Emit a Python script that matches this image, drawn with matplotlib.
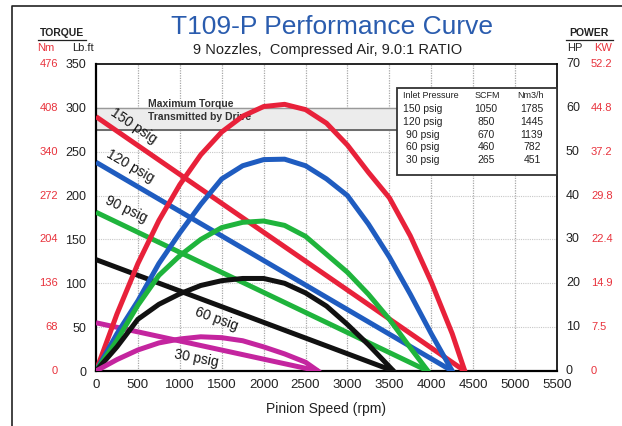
import numpy as np
import matplotlib
matplotlib.use("Agg")
import matplotlib.pyplot as plt
from matplotlib.patches import Rectangle

plt.rcParams['font.family'] = ['Liberation Sans', 'DejaVu Sans']

# ---------------- data ----------------
pressures = ['150 psig', '120 psig', '90 psig', '60 psig', '30 psig']
colors = ['#e8213a', '#1f5cc0', '#1fb43c', '#111111', '#c4259f']

# torque lines (Lb.ft): value at 0 rpm and stall speed where it reaches 0
torque_start = [290, 238, 181, 127, 55]
free_speed = [4400, 4250, 3960, 3550, 2650]

# power curves (HP) read point by point
rpm_150 = [0, 250, 500, 750, 1000, 1250, 1500, 1750, 2000, 2250, 2500, 2750,
           3000, 3250, 3500, 3750, 4000, 4250, 4400]
hp_150 = [0, 13, 24.5, 34.3, 42.5, 49.3, 54.5, 58.1, 60.3, 60.8, 59.6, 56.5,
          51.5, 45.3, 39.5, 30.8, 20.3, 8.5, 0]
rpm_120 = [0, 250, 500, 750, 1000, 1250, 1500, 1750, 2000, 2250, 2500, 2750,
           3000, 3250, 3500, 3750, 4000, 4250]
hp_120 = [0, 8.5, 16, 24.5, 31.5, 38, 43.8, 46.8, 48.2, 48.3, 46.8, 43.8,
          40, 33.5, 26, 17.5, 8.5, 0]
rpm_90 = [0, 250, 500, 750, 1000, 1250, 1500, 1750, 2000, 2250, 2500, 2750,
          3000, 3250, 3500, 3750, 3960]
hp_90 = [0, 7, 15, 21.8, 26.3, 30, 32.7, 33.9, 34.2, 33.2, 30.7, 26.6,
         22.5, 17.5, 11.8, 5.3, 0]
rpm_60 = [0, 250, 500, 750, 1000, 1250, 1500, 1750, 2000, 2250, 2500, 2750,
          3000, 3250, 3450, 3550]
hp_60 = [0, 5.5, 11.8, 15.2, 17.6, 19.5, 20.6, 21.1, 21.1, 20, 17.8, 14.8,
         10.6, 6, 2, 0]
rpm_30 = [0, 250, 500, 750, 1000, 1250, 1500, 1750, 2000, 2250, 2500, 2650]
hp_30 = [0, 2.6, 4.8, 6.4, 7.3, 7.8, 7.6, 6.9, 5.5, 3.9, 2.0, 0]
power_rpm = [rpm_150, rpm_120, rpm_90, rpm_60, rpm_30]
power_hp = [hp_150, hp_120, hp_90, hp_60, hp_30]

lbft_ticks = [0, 50, 100, 150, 200, 250, 300, 350]
nm_labels = ['0', '68', '136', '204', '272', '340', '408', '476']
hp_ticks = [0, 10, 20, 30, 40, 50, 60, 70]
kw_labels = ['0', '7.5', '14.9', '22.4', '29.8', '37.2', '44.8', '52.2']
rpm_ticks = list(range(0, 5501, 500))

table_rows = [('150 psig', '1050', '1785'), ('120 psig', '850', '1445'),
              ('90 psig', '670', '1139'), ('60 psig', '460', '782'),
              ('30 psig', '265', '451')]

# ---------------- figure ----------------
W, H = 622, 426
fig = plt.figure(figsize=(W / 100, H / 100), dpi=100)


def px(x, y):
    return x / W, 1 - y / H


L, R, T, B = 96, 557, 64, 371
ax = fig.add_axes([L / W, 1 - B / H, (R - L) / W, (B - T) / H])
ax.set_xlim(0, 5500)
ax.set_ylim(0, 350)
ax2 = ax.twinx()
ax2.set_ylim(0, 70)

for a in (ax, ax2):
    a.tick_params(length=0)
ax2.set_yticks([])
ax.set_xticks(rpm_ticks)
ax.set_xticklabels([str(t) for t in rpm_ticks], fontsize=9.5, color='#222222')
ax.tick_params(axis='x', pad=6)
ax.set_yticks(lbft_ticks)
ax.set_yticklabels([str(t) for t in lbft_ticks], fontsize=9, color='#222222')
ax.tick_params(axis='y', pad=7)

for s in ('left', 'bottom'):
    ax.spines[s].set_linewidth(1.6)
for s in ('top', 'right'):
    ax.spines[s].set_linewidth(1.2)
for s in ax2.spines.values():
    s.set_visible(False)

# grid
for xv in rpm_ticks[1:-1]:
    ax.axvline(xv, color='#a8a8a8', ls=(0, (1, 1)), lw=0.9, zorder=0)
for yv in lbft_ticks[1:-1]:
    ax.axhline(yv, color='#c8c8c8', ls=(0, (1, 1)), lw=0.8, zorder=0)

# maximum torque band
box_left = (397 - L) / (R - L)
ax.axhspan(275, 300, xmin=0, xmax=box_left, color='#ececec', zorder=0)
ax.axhline(300, xmin=0, xmax=box_left, color='#999999', lw=1.0, zorder=1)
ax.axhline(275, xmin=0, xmax=box_left, color='#555555', lw=1.2, zorder=1)
ax.text(620, 297, 'Maximum Torque\nTransmitted by Drive', fontsize=7.5,
        fontweight='bold', color='#333333', va='center', ha='left',
        linespacing=1.3, zorder=2)

# torque lines and power curves
for i in range(len(pressures)):
    ax.plot([0, free_speed[i]], [torque_start[i], 0], color=colors[i],
            lw=3.6, solid_capstyle='butt', zorder=3)
    ax2.plot(power_rpm[i], power_hp[i], color=colors[i], lw=3.6,
             solid_joinstyle='round', zorder=3)

# line labels
label_pos = [(450, 280, -34), (410, 234, -30), (355, 184, -25.5),
             (1440, 59, -20), (1200, 14, -11)]
for (xl, yl, rot), name in zip(label_pos, pressures):
    ax.text(xl, yl, name, fontsize=10, color='#151515', rotation=rot,
            ha='center', va='center', rotation_mode='anchor', zorder=4)

# inlet table
tx0, ty0 = px(397, 88)
tx1, ty1 = px(557, 175)
fig.patches.append(Rectangle((tx0, ty1), tx1 - tx0, ty0 - ty1,
                             transform=fig.transFigure, fill=True,
                             facecolor='white', edgecolor='#333333', lw=1.3,
                             zorder=5))
hdr_y = 96
for xc, txt in [(431, 'Inlet Pressure'), (487, 'SCFM'), (531, 'Nm3/h')]:
    fig.text(*px(xc, hdr_y), txt, fontsize=6.5, ha='center', va='center',
             color='#222222', zorder=6)
for k, row in enumerate(table_rows):
    yy = 109 + k * 12.8
    for xc, txt in zip((423, 486, 532), row):
        fig.text(*px(xc, yy), txt, fontsize=7.5, ha='center', va='center',
                 color='#222222', zorder=6)

# Nm and KW columns
for yv, lab in zip(lbft_ticks, nm_labels):
    fig.text(*px(58, B - yv * (B - T) / 350), lab, fontsize=8, color='#e8323c',
             ha='right', va='center')
for hv, hl, kl in zip(hp_ticks, hp_ticks, kw_labels):
    yy = B - hv * (B - T) / 70
    fig.text(*px(566, yy), str(hl), fontsize=9, color='#222222', ha='left',
             va='center')
    fig.text(*px(591, yy), kl, fontsize=8, color='#e8323c', ha='left',
             va='center')

# axis headers
fig.text(*px(62, 33), 'TORQUE', fontsize=7.5, fontweight='bold', ha='center',
         va='center', color='#222222')
fig.add_artist(plt.Line2D([38 / W, 86 / W], [1 - 39.5 / H, 1 - 39.5 / H],
                          color='#222222', lw=0.9))
fig.text(*px(46, 48), 'Nm', fontsize=8, color='#e8323c', ha='center', va='center')
fig.text(*px(83, 48), 'Lb.ft', fontsize=8, color='#222222', ha='center', va='center')
fig.text(*px(589, 33), 'POWER', fontsize=7.5, fontweight='bold', ha='center',
         va='center', color='#222222')
fig.add_artist(plt.Line2D([566 / W, 613 / W], [1 - 39.5 / H, 1 - 39.5 / H],
                          color='#222222', lw=0.9))
fig.text(*px(575, 48), 'HP', fontsize=8, color='#222222', ha='center', va='center')
fig.text(*px(603, 48), 'KW', fontsize=8, color='#e8323c', ha='center', va='center')

# titles
fig.text(*px(332, 27), 'T109-P Performance Curve', fontsize=19, color='#2a5cae',
         ha='center', va='center')
fig.text(*px(328, 50), '9 Nozzles,  Compressed Air, 9.0:1 RATIO', fontsize=10.5,
         color='#222222', ha='center', va='center')
fig.text(*px(326, 409), 'Pinion Speed (rpm)', fontsize=10, color='#222222',
         ha='center', va='center')

# outer frame (left and top edges visible)
fig.add_artist(plt.Line2D([12 / W, 12 / W, 1], [0, 1 - 6 / H, 1 - 6 / H],
                          color='#222222', lw=1.2))

fig.savefig('out.png', dpi=100)
